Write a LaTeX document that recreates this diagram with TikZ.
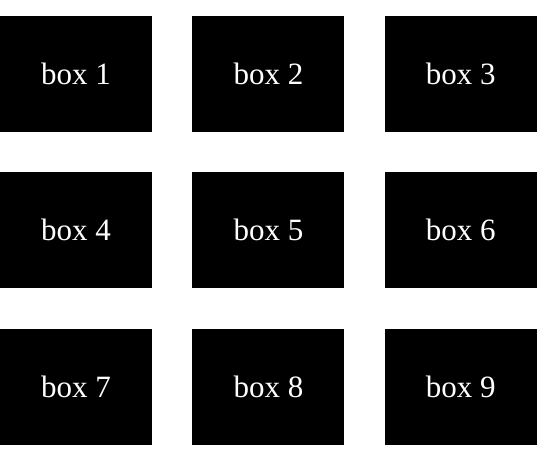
\documentclass[tikz,border=0pt]{standalone}
\usepackage{fontspec}
\setmainfont{Liberation Serif}
\usepackage{tikz}
\usetikzlibrary{positioning}
\tikzset{
  boxnode/.style={fill=black, text=white, inner sep=0pt, minimum width=152pt, minimum height=116pt, align=center, font=\fontsize{31}{36}\selectfont}
}

\begin{document}
\begin{tikzpicture}[x=1pt, y=1pt]
      \useasboundingbox (0,0) rectangle (550,458);
      \node[boxnode] (b1) at (76,384) {box 1};
      \node[boxnode, right=40pt of b1] (b2) {box 2};
      \node[boxnode, right=40pt of b2] (b3) {box 3};
      \node[boxnode, below=40pt of b1] (b4) {box 4};
      \node[boxnode, right=40pt of b4] (b5) {box 5};
      \node[boxnode, right=40pt of b5] (b6) {box 6};
      \node[boxnode, below=40pt of b4] (b7) {box 7};
      \node[boxnode, right=40pt of b7] (b8) {box 8};
      \node[boxnode, right=40pt of b8] (b9) {box 9};
    \end{tikzpicture}
\end{document}
